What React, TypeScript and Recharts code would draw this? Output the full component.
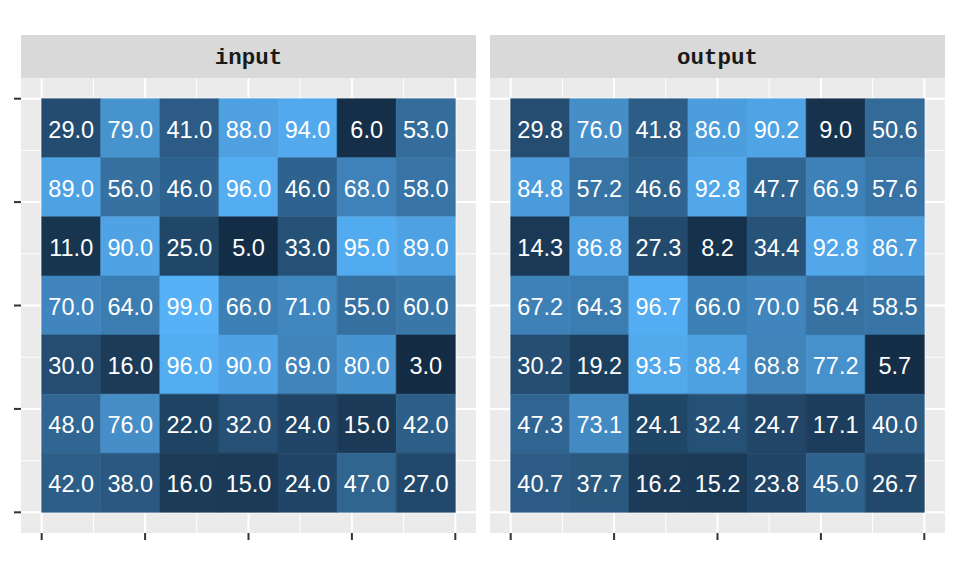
import { ScatterChart, Scatter, XAxis, YAxis, ReferenceArea, CartesianGrid } from 'recharts'

const cols = [1, 2, 3, 4, 5, 6, 7]
const rowsTopDown = [7, 6, 5, 4, 3, 2, 1]

const inputVals = [
  [29.0, 79.0, 41.0, 88.0, 94.0, 6.0, 53.0],
  [89.0, 56.0, 46.0, 96.0, 46.0, 68.0, 58.0],
  [11.0, 90.0, 25.0, 5.0, 33.0, 95.0, 89.0],
  [70.0, 64.0, 99.0, 66.0, 71.0, 55.0, 60.0],
  [30.0, 16.0, 96.0, 90.0, 69.0, 80.0, 3.0],
  [48.0, 76.0, 22.0, 32.0, 24.0, 15.0, 42.0],
  [42.0, 38.0, 16.0, 15.0, 24.0, 47.0, 27.0],
]
const outputVals = [
  [29.8, 76.0, 41.8, 86.0, 90.2, 9.0, 50.6],
  [84.8, 57.2, 46.6, 92.8, 47.7, 66.9, 57.6],
  [14.3, 86.8, 27.3, 8.2, 34.4, 92.8, 86.7],
  [67.2, 64.3, 96.7, 66.0, 70.0, 56.4, 58.5],
  [30.2, 19.2, 93.5, 88.4, 68.8, 77.2, 5.7],
  [47.3, 73.1, 24.1, 32.4, 24.7, 17.1, 40.0],
  [40.7, 37.7, 16.2, 15.2, 23.8, 45.0, 26.7],
]
const panels = ['input', 'output']
const majorTicks = [0.5, 2.25, 4, 5.75, 7.5]
const minorTicks = [1.375, 3.125, 4.875, 6.625]

// ggplot-like Lab gradient #132B43 -> #56B1F7
function toLab(hex: string) {
  const c = [1, 3, 5].map(i => parseInt(hex.slice(i, i + 2), 16) / 255)
    .map(v => (v <= 0.04045 ? v / 12.92 : Math.pow((v + 0.055) / 1.055, 2.4)))
  const X = (0.4124 * c[0] + 0.3576 * c[1] + 0.1805 * c[2]) / 0.95047
  const Y = 0.2126 * c[0] + 0.7152 * c[1] + 0.0722 * c[2]
  const Z = (0.0193 * c[0] + 0.1192 * c[1] + 0.9505 * c[2]) / 1.08883
  const f = (t: number) => (t > 0.008856 ? Math.cbrt(t) : 7.787 * t + 16 / 116)
  return [116 * f(Y) - 16, 500 * (f(X) - f(Y)), 200 * (f(Y) - f(Z))]
}
function fromLab([L, a, b]: number[]) {
  const fy = (L + 16) / 116, fx = fy + a / 500, fz = fy - b / 200
  const g = (t: number) => (t ** 3 > 0.008856 ? t ** 3 : (t - 16 / 116) / 7.787)
  const X = g(fx) * 0.95047, Y = g(fy), Z = g(fz) * 1.08883
  const rgb = [
    3.2406 * X - 1.5372 * Y - 0.4986 * Z,
    -0.9689 * X + 1.8758 * Y + 0.0415 * Z,
    0.0557 * X - 0.204 * Y + 1.057 * Z,
  ].map(v => (v <= 0.0031308 ? 12.92 * v : 1.055 * Math.pow(v, 1 / 2.4) - 0.055))
    .map(v => Math.round(Math.max(0, Math.min(1, v)) * 255))
  return `rgb(${rgb.join(',')})`
}
const lowLab = toLab('#132B43')
const highLab = toLab('#56B1F7')
const allVals = [...inputVals.flat(), ...outputVals.flat()]
const vMin = Math.min(...allVals)
const vMax = Math.max(...allVals)
const colorFor = (v: number) => {
  const t = (v - vMin) / (vMax - vMin)
  return fromLab(lowLab.map((l, i) => l + (highLab[i] - l) * t))
}

function cells(vals: number[][]) {
  return vals.flatMap((row, r) => row.map((v, c) => ({ x: cols[c], y: rowsTopDown[r], v })))
}

const Label = (p: any) => (
  <text x={p.cx} y={p.cy + 1.5} textAnchor="middle" dominantBaseline="central" fill="#fff"
    style={{ fontFamily: 'Liberation Sans, Arial, sans-serif', fontSize: 23.5 }}>
    {p.payload.v.toFixed(1)}
  </text>
)

function Panel({ vals, showY }: { vals: number[][]; showY: boolean }) {
  const data = cells(vals)
  const dom: [number, number] = [0.15, 7.85]
  return (
    <ScatterChart width={showY ? 476 : 455} height={498} margin={{ top: 0, right: 0, bottom: 0, left: 0 }}>
      <CartesianGrid fill="#EBEBEB" stroke="#fff" strokeWidth={1}
        verticalValues={minorTicks} horizontalValues={minorTicks} />
      <CartesianGrid stroke="#fff" strokeWidth={2}
        verticalValues={majorTicks} horizontalValues={majorTicks} />
      <XAxis type="number" dataKey="x" domain={dom} ticks={majorTicks} allowDataOverflow
        tickFormatter={() => ''} tickSize={7} axisLine={false} height={43}
        tickLine={{ stroke: '#333', strokeWidth: 2 }} />
      <YAxis type="number" dataKey="y" domain={dom} ticks={majorTicks} allowDataOverflow hide={!showY}
        tickFormatter={() => ''} tickSize={7} axisLine={false} width={21}
        tickLine={{ stroke: '#333', strokeWidth: 2 }} />
      {data.map(d => (
        <ReferenceArea key={d.x + '-' + d.y} x1={d.x - 0.5} x2={d.x + 0.5} y1={d.y - 0.5} y2={d.y + 0.5}
          fill={colorFor(d.v)} fillOpacity={1} stroke={colorFor(d.v)} strokeWidth={0.6} />
      ))}
      <Scatter data={data} shape={Label} isAnimationActive={false} />
    </ScatterChart>
  )
}

export default function App() {
  return (
    <div style={{ position: 'absolute', left: 0, top: 0, width: 960, height: 576, background: '#fff' }}>
      {panels.map((name, i) => (
        <div key={name}>
          <div style={{
            position: 'absolute', left: i === 0 ? 21 : 490, top: 35, width: 455, height: 43,
            boxSizing: 'border-box', paddingTop: 3,
            background: '#D9D9D9', display: 'flex', alignItems: 'center', justifyContent: 'center',
            fontFamily: '"Liberation Mono", "DejaVu Sans Mono", monospace', fontSize: 22.5,
            fontWeight: 'bold', color: '#1A1A1A',
          }}>{name}</div>
          <div style={{ position: 'absolute', left: i === 0 ? 0 : 490, top: 78 }}>
            <Panel vals={i === 0 ? inputVals : outputVals} showY={i === 0} />
          </div>
        </div>
      ))}
    </div>
  )
}
